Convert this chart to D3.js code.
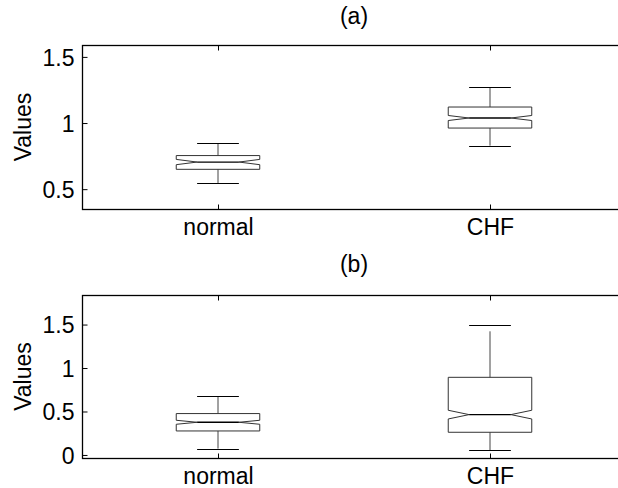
<!DOCTYPE html>
<html>
<head>
<meta charset="utf-8">
<script src="https://cdn.jsdelivr.net/npm/d3@7"></script>
<style>
  html, body { margin: 0; padding: 0; background: #fff; }
  svg { display: block; font-family: "Liberation Sans", Arial, sans-serif; }
  .tick text { font-size: 23px; fill: #000; }
</style>
</head>
<body>
<svg id="chart" width="618" height="488"></svg>
<script>
'use strict';

// data
const categories = ['normal', 'CHF'];

// panel (a)
const aLowWhisker  = [0.547, 0.829];
const aQ1          = [0.650, 0.962];
const aNotchLow    = [0.685, 1.019];
const aMedian      = [0.705, 1.038];
const aNotchHigh   = [0.725, 1.057];
const aQ3          = [0.754, 1.121];
const aHighWhisker = [0.849, 1.272];
const aTicks = [0.5, 1, 1.5];

// panel (b)
const bLowWhisker  = [0.073, 0.057];
const bQ1          = [0.276, 0.261];
const bNotchLow    = [0.353, 0.414];
const bMedian      = [0.376, 0.464];
const bNotchHigh   = [0.399, 0.514];
const bQ3          = [0.476, 0.893];
const bHighWhisker = [0.677, 1.499];
const bTicks = [0, 0.5, 1, 1.5];

const panels = [
  { title: '(a)', top: 45, bottom: 209, yDomain: [0.35, 1.59], ticks: aTicks,
    lo: aLowWhisker, q1: aQ1, nlo: aNotchLow, med: aMedian, nhi: aNotchHigh, q3: aQ3, hi: aHighWhisker,
    titleY: 24 },
  { title: '(b)', top: 295, bottom: 458, yDomain: [-0.035, 1.84], ticks: bTicks,
    lo: bLowWhisker, q1: bQ1, nlo: bNotchLow, med: bMedian, nhi: bNotchHigh, q3: bQ3, hi: bHighWhisker,
    titleY: 272 }
];

const left = 82, right = 626;
const boxWidth = 0.307;   // in x units
const svg = d3.select('#chart');

var x = d3.scaleLinear()
  .domain([0.5, 2.5])
  .range([left, right]);

panels.forEach(function(p) {
  var y = d3.scaleLinear()
    .domain(p.yDomain)
    .range([p.bottom, p.top]);

  var g = svg.append('g');

  // frame
  g.append('rect')
    .attr('x', left + 0.5)
    .attr('y', p.top + 0.5)
    .attr('width', right - left)
    .attr('height', p.bottom - p.top)
    .style('fill', 'none')
    .style('stroke', '#000')
    .style('stroke-width', '1.3px');

  // y axis, ticks pointing in
  g.append('g')
    .attr('transform', `translate(${left + 0.5},0)`)
    .call(d3.axisLeft(y).tickValues(p.ticks).tickFormat(d3.format('')).tickSize(-5).tickSizeOuter(0).tickPadding(8))
    .call(a => a.select('.domain').remove())
    .call(a => a.selectAll('.tick line').attr('stroke', '#000'))
    .call(a => a.selectAll('.tick text').attr('dy', '0.36em'));

  // x axis, bottom
  g.append('g')
    .attr('transform', `translate(0,${p.bottom + 0.5})`)
    .call(d3.axisBottom(x).tickValues([1, 2]).tickFormat((d, i) => categories[i]).tickSize(-5).tickSizeOuter(0).tickPadding(9))
    .call(a => a.select('.domain').remove())
    .call(a => a.selectAll('.tick line').attr('stroke', '#000'));

  // x axis, top (ticks only)
  g.append('g')
    .attr('transform', `translate(0,${p.top + 0.5})`)
    .call(d3.axisTop(x).tickValues([1, 2]).tickFormat('').tickSize(-5).tickSizeOuter(0))
    .call(a => a.select('.domain').remove())
    .call(a => a.selectAll('.tick line').attr('stroke', '#000'));

  // title
  g.append('text')
    .attr('x', (left + right) / 2)
    .attr('y', p.titleY)
    .attr('text-anchor', 'middle')
    .style('font-size', '23px')
    .text(p.title);

  // y label
  g.append('text')
    .attr('transform', `translate(31,${(p.top + p.bottom) / 2}) rotate(-90)`)
    .attr('text-anchor', 'middle')
    .style('font-size', '23px')
    .text('Values');

  // boxes
  var boxes = g.selectAll('.box')
    .data(categories)
    .enter()
    .append('g')
    .attr('class', 'box');

  boxes.each(function(d, i) {
    var b = d3.select(this);
    var cx = x(i + 1);
    var hw = (x(1 + boxWidth / 2) - x(1));
    var nw = hw / 2;

    // whiskers, dashed like matlab's default
    b.append('line')
      .attr('x1', cx).attr('x2', cx)
      .attr('y1', y(p.q3[i])).attr('y2', y(p.hi[i]))
      .style('stroke', '#444')
      .style('stroke-dasharray', '46,8');
    b.append('line')
      .attr('x1', cx).attr('x2', cx)
      .attr('y1', y(p.q1[i])).attr('y2', y(p.lo[i]))
      .style('stroke', '#444')
      .style('stroke-dasharray', '46,8');

    // caps
    [p.hi[i], p.lo[i]].forEach(function(v) {
      b.append('line')
        .attr('x1', cx - nw).attr('x2', cx + nw)
        .attr('y1', Math.round(y(v)) + 0.5).attr('y2', Math.round(y(v)) + 0.5)
        .style('stroke', '#000');
    });

    // notched box
    var pts = [
      [cx - hw, y(p.q3[i])], [cx + hw, y(p.q3[i])],
      [cx + hw, y(p.nhi[i])], [cx + nw, y(p.med[i])], [cx + hw, y(p.nlo[i])],
      [cx + hw, y(p.q1[i])], [cx - hw, y(p.q1[i])],
      [cx - hw, y(p.nlo[i])], [cx - nw, y(p.med[i])], [cx - hw, y(p.nhi[i])]
    ];
    b.append('path')
      .attr('d', d3.line()(pts) + 'Z')
      .style('fill', 'none')
      .style('stroke', '#333')
      .style('stroke-width', '1px');

    // median
    b.append('line')
      .attr('x1', cx - nw).attr('x2', cx + nw)
      .attr('y1', y(p.med[i])).attr('y2', y(p.med[i]))
      .style('stroke', '#000')
      .style('stroke-width', '1.3px');
  });
});
</script>
</body>
</html>
